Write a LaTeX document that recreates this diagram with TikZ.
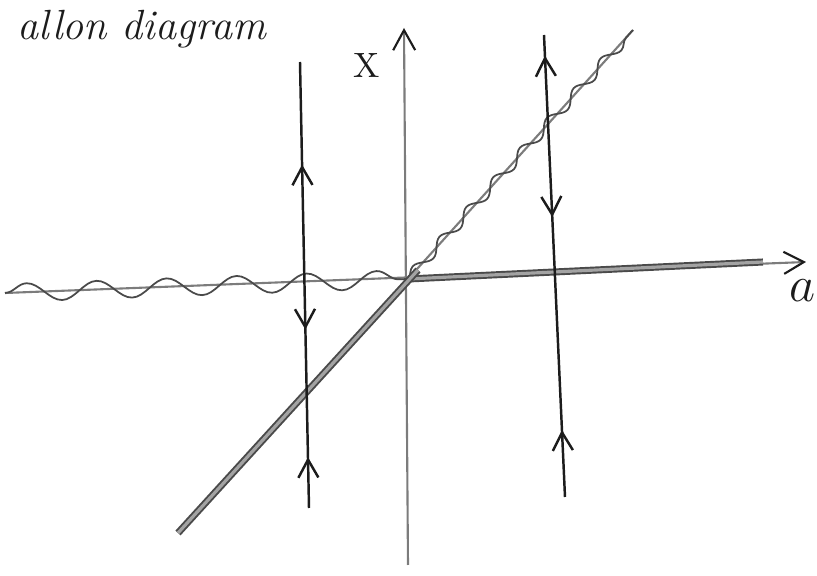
\documentclass[tikz,border=0pt]{standalone}
\usetikzlibrary{arrows.meta,decorations.pathmorphing,decorations.markings}
\definecolor{bifInk}{HTML}{1C1C1C}
\definecolor{bifPencil}{HTML}{7C7C7C}
\definecolor{bifGray}{HTML}{4A4A4A}
\tikzset{
  every picture/.style={font=\itshape, text=bifInk},
  bif axis/.style={draw=bifPencil, line width=0.6pt},
  bif head/.style={-{Straight Barb[length=2mm,width=2.2mm,color=bifInk]}},
  bif flow/.style={draw=bifInk, line width=0.7pt},
  bif stable/.style={draw=bifGray, line width=0.55pt,
    double=bifPencil!70, double distance=0.9pt},
  bif wave/.style={draw=bifGray, line width=0.5pt, decorate,
    decoration={snake, amplitude=0.9mm, segment length=7mm}},
  bif up/.style={postaction={decorate, decoration={markings,
    mark=at position #1 with {\arrowreversed{Straight Barb[length=1.8mm,width=2mm]}}}}},
  bif down/.style={postaction={decorate, decoration={markings,
    mark=at position #1 with {\arrow{Straight Barb[length=1.8mm,width=2mm]}}}}}
}
\begin{document}
\begin{tikzpicture}[x=0.01cm,y=-0.01cm]
  \useasboundingbox (0,0) rectangle (817,576);
  \coordinate (O) at (408,279);
  \coordinate (aL) at (5,293);
  \coordinate (aR) at (806,262);
  \coordinate (xB) at (408,565);
  \coordinate (xT) at (404,28);
  \coordinate (sR) at (763,262);
  \coordinate (dT) at (418,270);
  \coordinate (dB) at (178,533);
  \coordinate (uT) at (633,30);
  % axes
  \draw[bif axis,bif head] (aL) -- (aR);
  \draw[bif axis,bif head] (xB) -- (xT);
  \node (xlab) at (367,65) {\upshape X};
  \node (alab) at (803,291) {\Large $a$};
  \node[anchor=base west] (title) at (5,40) {\large allon diagram};
  % branches
  \draw[bif axis] (O) -- (uT);
  \draw[bif wave,decoration={amplitude=0.5mm,segment length=4mm}] (O) -- (uT);
  \draw[bif wave] (aL) -- (O);
  \draw[bif stable] (O) -- (sR);
  \draw[bif stable] (dT) -- (dB);
  % flow lines
  \coordinate (fLT) at (300,62);
  \coordinate (fLB) at (309,508);
  \coordinate (fRT) at (544,35);
  \coordinate (fRB) at (565,497);
  \draw[bif flow,bif up=0.23,bif down=0.6,bif up=0.886] (fLT) -- (fLB);
  \draw[bif flow,bif up=0.045,bif down=0.394,bif up=0.855] (fRT) -- (fRB);
\end{tikzpicture}
\end{document}
